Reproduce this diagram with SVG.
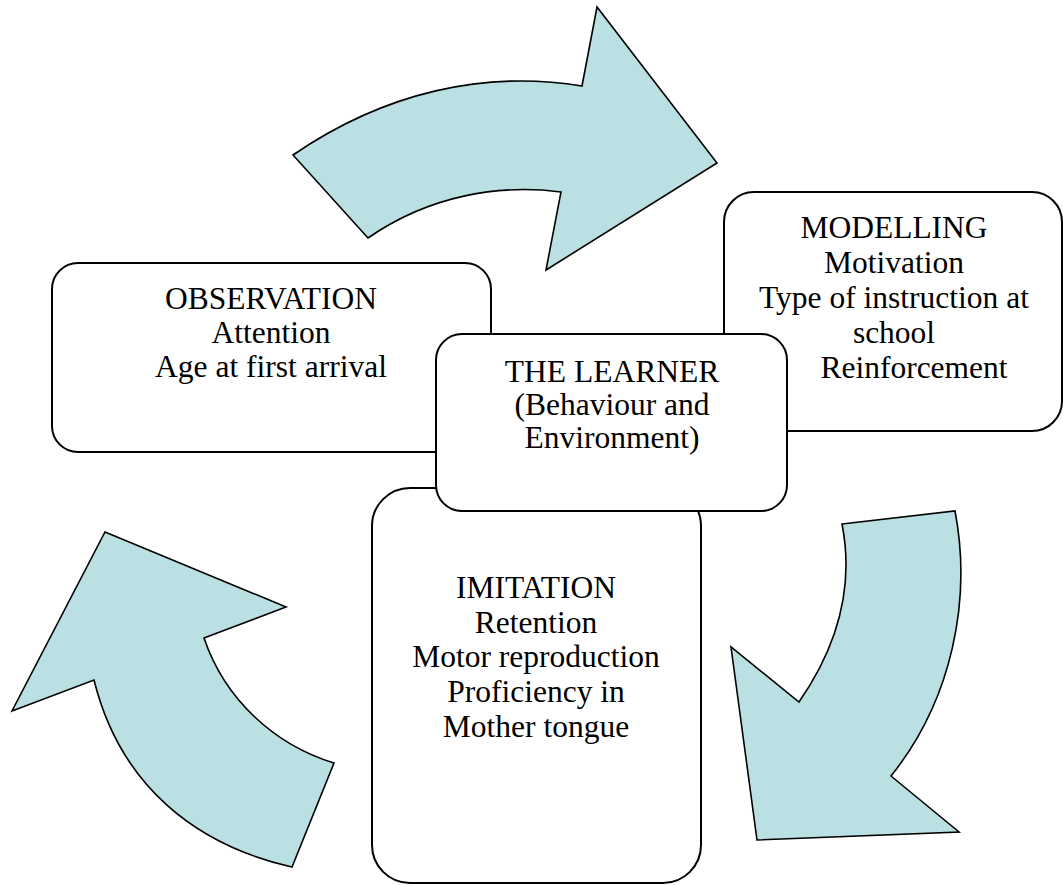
<svg xmlns="http://www.w3.org/2000/svg" width="1063" height="886" viewBox="0 0 1063 886">
<style>
.arrow{fill:#BBE0E3;stroke:#000;stroke-width:1.6;stroke-linejoin:miter}
.box{fill:#fff;stroke:#000;stroke-width:2}
.node text{font-family:"Liberation Serif","Times New Roman",serif;font-size:31.5px;fill:#000;text-anchor:middle}
</style>
<rect width="1063" height="886" fill="#fff"/>
<g id="connectors">
<path id="arrow-top" class="arrow" d="M293,155 C385,92 485,70 582,86 L597,7 L717,163 L546,270 L561,192 C500,184 430,195 368,238 Z"/>
<path id="arrow-right" class="arrow" d="M842,524 L955,511 C972,600 952,700 891,776 L959,832 L757,840 L731,647 L799,702 C835,650 855,590 842,524 Z"/>
<path id="arrow-left" class="arrow" d="M105,532 L286,607 L204,638 C225,700 275,745 334,763 L292,867 C195,845 120,785 94,680 L12,711 Z"/>
</g>
<g id="observation" class="node">
<rect class="box" x="52" y="263" width="439" height="189" rx="26"/>
<text x="271" y="309">OBSERVATION</text>
<text x="271" y="343">Attention</text>
<text x="271" y="377">Age at first arrival</text>
</g>
<g id="modelling" class="node">
<rect class="box" x="724" y="192" width="338" height="239" rx="30"/>
<text x="894" y="238">MODELLING</text>
<text x="894" y="273">Motivation</text>
<text x="894" y="308">Type of instruction at</text>
<text x="894" y="343">school</text>
<text x="914" y="378">Reinforcement</text>
</g>
<g id="imitation" class="node">
<rect class="box" x="372" y="488" width="329" height="395" rx="38"/>
<text x="536" y="598">IMITATION</text>
<text x="536" y="633">Retention</text>
<text x="536" y="667">Motor reproduction</text>
<text x="536" y="702">Proficiency in</text>
<text x="536" y="737">Mother tongue</text>
</g>
<g id="learner" class="node">
<rect class="box" x="436" y="334" width="351" height="177" rx="26"/>
<text x="612" y="382">THE LEARNER</text>
<text x="612" y="415">(Behaviour and</text>
<text x="612" y="448">Environment)</text>
</g>
</svg>
